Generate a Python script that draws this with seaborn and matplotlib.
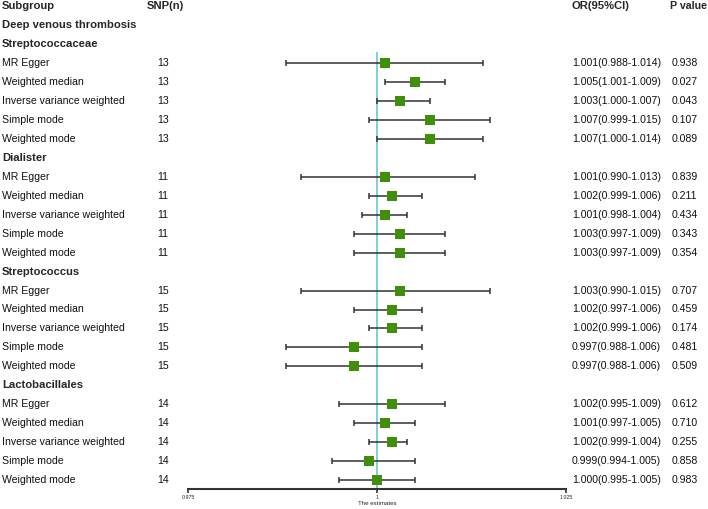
import numpy as np
import pandas as pd
import matplotlib
matplotlib.use("Agg")
import matplotlib.pyplot as plt
import seaborn as sns

# Data
outcome = "Deep venous thrombosis"
groups = ["Streptococcaceae", "Dialister", "Streptococcus", "Lactobacillales"]
methods = ["MR Egger", "Weighted median", "Inverse variance weighted",
           "Simple mode", "Weighted mode"]
snp_n = [13, 11, 15, 14]

or_est = [1.001, 1.005, 1.003, 1.007, 1.007,
          1.001, 1.002, 1.001, 1.003, 1.003,
          1.003, 1.002, 1.002, 0.997, 0.997,
          1.002, 1.001, 1.002, 0.999, 1.000]
ci_low = [0.988, 1.001, 1.000, 0.999, 1.000,
          0.990, 0.999, 0.998, 0.997, 0.997,
          0.990, 0.997, 0.999, 0.988, 0.988,
          0.995, 0.997, 0.999, 0.994, 0.995]
ci_high = [1.014, 1.009, 1.007, 1.015, 1.014,
           1.013, 1.006, 1.004, 1.009, 1.009,
           1.015, 1.006, 1.006, 1.006, 1.006,
           1.009, 1.005, 1.004, 1.005, 1.005]
p_vals = ["0.938", "0.027", "0.043", "0.107", "0.089",
          "0.839", "0.211", "0.434", "0.343", "0.354",
          "0.707", "0.459", "0.174", "0.481", "0.509",
          "0.612", "0.710", "0.255", "0.858", "0.983"]

x_ticks = [0.975, 1, 1.025]
x_ticklabels = ["0.975", "1", "1.025"]

# build the table: header row 0, outcome row 1, then group header + 5 methods
rows = []
k = 0
for g, grp in enumerate(groups):
    for j, m in enumerate(methods):
        rows.append({"group": grp, "method": m, "snp": snp_n[g],
                     "row": 3 + 6 * g + j, "or": or_est[k],
                     "lo": ci_low[k], "hi": ci_high[k], "p": p_vals[k]})
        k += 1
df = pd.DataFrame(rows)

sns.set_style("white")
plt.rcParams["font.family"] = ["Liberation Sans", "DejaVu Sans"]

W, H = 708, 509
fig = plt.figure(figsize=(W / 100, H / 100), dpi=100)

# text layer (pixel x, row y)
tx = fig.add_axes([0, 0, 1, 1])
tx.set_xlim(0, W)
tx.set_ylim(26.53, -0.33)
tx.axis("off")

fs = 7.6
fb = 8.1
txt_c = "#111111"
col_sub, col_snp, col_or, col_p = 2, 157, 572, 672
tx.text(col_sub, 0, "Subgroup", fontsize=fb, fontweight="bold", va="center")
tx.text(147, 0, "SNP(n)", fontsize=fb, fontweight="bold", va="center")
tx.text(col_or, 0, "OR(95%CI)", fontsize=fb, fontweight="bold", va="center")
tx.text(670, 0, "P value", fontsize=7.7, fontweight="bold", va="center")
tx.text(col_sub, 1, outcome, fontsize=fb, fontweight="bold", va="center")
for g, grp in enumerate(groups):
    tx.text(col_sub, 2 + 6 * g, grp, fontsize=fb, fontweight="bold", va="center")
for _, r in df.iterrows():
    tx.text(col_sub, r["row"], r["method"], fontsize=fs, va="center", color=txt_c)
    tx.text(col_snp, r["row"], str(r["snp"]), fontsize=fs, va="center", color=txt_c)
    tx.text(col_or, r["row"], f"{r['or']:.3f}({r['lo']:.3f}-{r['hi']:.3f})",
            fontsize=fs, va="center", color=txt_c)
    tx.text(col_p, r["row"], r["p"], fontsize=fs, va="center", color=txt_c)

# forest panel
ax = fig.add_axes([188 / W, 20 / H, 378 / W, 489 / H])
ax.set_facecolor("none")
ax.set_xlim(0.975, 1.025)
ax.set_ylim(25.47, -0.33)

ax.vlines(1, 2.41, 25.47, color="#6cc6d0", lw=1.2, zorder=1)
ax.errorbar(df["or"], df["row"],
            xerr=[df["or"] - df["lo"], df["hi"] - df["or"]],
            fmt="none", ecolor="#333333", elinewidth=1.1,
            capsize=2, capthick=1.1, zorder=2)
sns.scatterplot(data=df, x="or", y="row", marker="s", s=48,
                color="#3f8f0a", edgecolor="#3f8f0a", linewidth=0,
                ax=ax, zorder=3, legend=False)

for s in ["top", "left", "right"]:
    ax.spines[s].set_visible(False)
ax.spines["bottom"].set_bounds(0.975, 1.025)
ax.spines["bottom"].set_linewidth(1.5)
ax.spines["bottom"].set_color("#333333")
ax.set_yticks([])
ax.set_ylabel("")
ax.set_xticks(x_ticks)
ax.set_xticklabels(x_ticklabels)
ax.tick_params(axis="x", direction="out", length=3, width=1.2,
               color="#333333", labelsize=3.8, pad=1.5, bottom=True)
ax.set_xlabel("The estimates", fontsize=4.4, labelpad=0.5)

fig.savefig("out.png", dpi=100)
